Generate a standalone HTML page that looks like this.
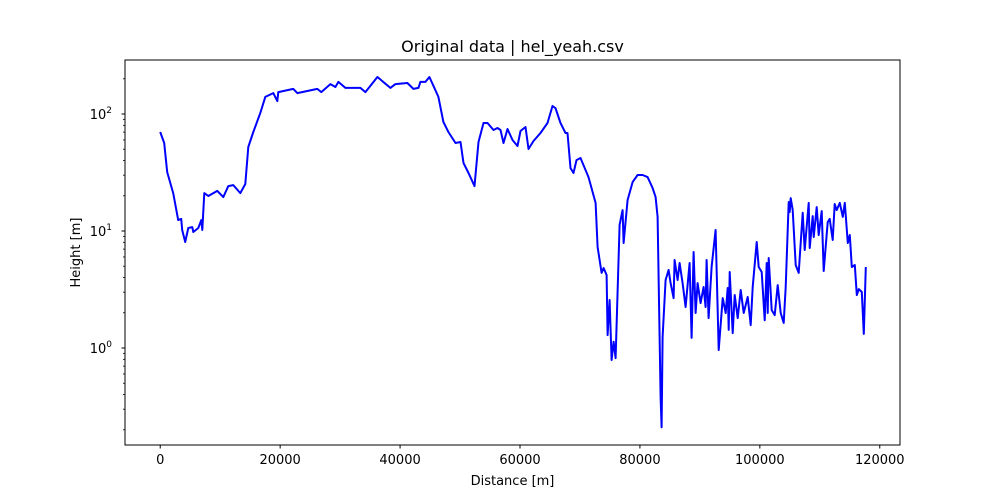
<!DOCTYPE html>
<html><head><meta charset="utf-8"><style>
body{margin:0;background:#fff;}
svg{display:block;font-family:"DejaVu Sans","Liberation Sans",sans-serif;}
</style></head><body>
<svg id="chart" width="1000" height="500"></svg>
<script>
const distances=[0,668,1169,2170,3004,3505,3672,4173,4674,5341,5508,6342,6843,7010,7344,8011,9513,10515,11349,12184,13352,14187,14687,15522,16690,17524,18860,19527,19694,22198,22865,26203,26871,28373,29207,29708,30876,33380,34215,36217,38387,39222,41224,42226,43060,43394,44229,44896,45731,46399,47233,48068,49236,50071,50571,51406,52407,53075,53909,54577,55578,56245,56746,57247,57915,58749,59584,60084,60919,61420,62254,63422,64590,65425,65926,66760,67595,67929,68430,68930,69431,70098,71433,72602,72935,73603,73937,74438,74604,74938,75272,75606,75940,76607,77108,77275,77942,78777,79611,80446,81280,82115,82616,82950,83450,83617,83784,84285,84785,85119,85620,85787,86287,86621,87122,87623,88290,88624,88958,89292,89626,90126,90627,90961,91128,91462,91963,92630,93131,93799,94299,94633,94800,94967,95468,95801,96302,96803,97303,97971,98471,98805,99473,99807,100308,100808,101142,101309,101476,101977,102478,102978,103479,103980,104313,104814,104981,105148,105482,105983,106483,107151,107485,108152,108319,108820,108987,109488,109822,110322,110656,111324,111658,112158,112492,112826,113327,113828,114161,114662,114996,115330,115830,116164,116498,116999,117333,117666];
const heights=[70.2,56.5,31.9,21.1,12.4,12.7,10.2,8.05,10.6,10.8,9.8,10.6,12.4,10.2,21.1,19.9,22.0,19.5,24.2,24.7,21.1,25.2,52.2,70.2,102,140,151,129,154,164,151,164,154,180,170,188,167,167,154,207,167,180,184,164,167,188,188,207,167,140,85.5,70.2,56.5,57.6,38.1,31.3,24.2,57.6,83.8,83.8,73.0,75.9,73.0,56.5,74.5,60.0,53.3,71.6,77.4,50.2,58.8,68.8,83.8,117,112,83.8,68.8,68.8,34.5,31.3,40.4,42.1,28.9,17.4,7.3,4.38,4.83,4.21,1.29,2.57,0.79,1.13,0.82,11.3,15.1,7.9,18.4,26.2,30.1,30.1,28.9,23.3,19.5,13.2,0.38,0.21,1.24,3.81,4.64,3.59,2.67,5.65,3.81,5.33,3.59,2.24,5.33,1.22,6.62,1.99,3.59,2.42,3.32,2.24,5.65,1.80,4.92,10.2,0.96,2.67,1.99,3.26,1.43,4.46,1.34,2.84,1.80,3.13,1.99,2.73,1.57,3.32,8.05,4.92,4.46,1.73,5.33,1.99,5.88,2.11,1.91,3.45,1.99,1.64,3.32,17.7,14.5,19.1,15.1,5.12,4.38,14.3,6.88,17.4,7.16,13.4,8.89,16.0,9.25,14.8,4.55,11.9,12.7,8.38,17.0,15.1,17.4,13.2,17.4,7.9,9.25,4.92,5.12,2.84,3.19,3.01,1.32,4.92];
const xTicks=[0,20000,40000,60000,80000,100000,120000];
const yTickExps=[0,1,2];

const NS='http://www.w3.org/2000/svg';
const svg=document.getElementById('chart');
const L=125,R=900,T=60,B=445;
const xMin=-5875,xMax=123375,lMin=-0.829,lMax=2.4615;
const X=v=>L+(v-xMin)/(xMax-xMin)*(R-L);
const Y=v=>B-(Math.log10(v)-lMin)/(lMax-lMin)*(B-T);
function mk(tag,attrs,parent){const e=document.createElementNS(NS,tag);for(const k in attrs)e.setAttribute(k,attrs[k]);(parent||svg).appendChild(e);return e;}

const line=mk('polyline',{points:distances.map((d,i)=>X(d).toFixed(1)+','+Y(heights[i]).toFixed(1)).join(' '),fill:'none',stroke:'#0000ff','stroke-width':2,'stroke-linejoin':'round'});



const frame=mk('rect',{x:L,y:T,width:R-L,height:B-T,fill:'none',stroke:'#000','stroke-width':1});



xTicks.forEach(t=>{
  const x=X(t);
  mk('line',{x1:x,x2:x,y1:B,y2:B+3.5,stroke:'#000'});
  const tx=mk('text',{x:x,y:B+19,'font-size':13,'text-anchor':'middle'});
  tx.textContent=t;
  
  
});
for(let e=-1;e<=2;e++){for(let m=2;m<=9;m++){const v=m*Math.pow(10,e);const y=Y(v);if(y<T||y>B)continue;mk('line',{x1:L-2,x2:L,y1:y,y2:y,stroke:'#000','stroke-width':0.8});}}
yTickExps.forEach(p=>{
  const y=Y(Math.pow(10,p));
  mk('line',{x1:L-3.5,x2:L,y1:y,y2:y,stroke:'#000'});
  const tx=mk('text',{x:L-13,y:y+5,'font-size':13,'text-anchor':'end'});
  
  
  const a=mk('tspan',{},tx);a.textContent='10';
  const b=mk('tspan',{dy:-6,'font-size':9},tx);b.textContent=p;
});

const title=mk('text',{x:(L+R)/2,y:52,'font-size':16,'text-anchor':'middle'});
title.textContent='Original data | hel_yeah.csv';


const xl=mk('text',{x:(L+R)/2,y:485,'font-size':13,'text-anchor':'middle'});
xl.textContent='Distance [m]';


const yl=mk('text',{x:80,y:(T+B)/2,'font-size':13,'text-anchor':'middle',transform:'rotate(-90 80 '+((T+B)/2)+')'});
yl.textContent='Height [m]';


</script>
</body></html>
